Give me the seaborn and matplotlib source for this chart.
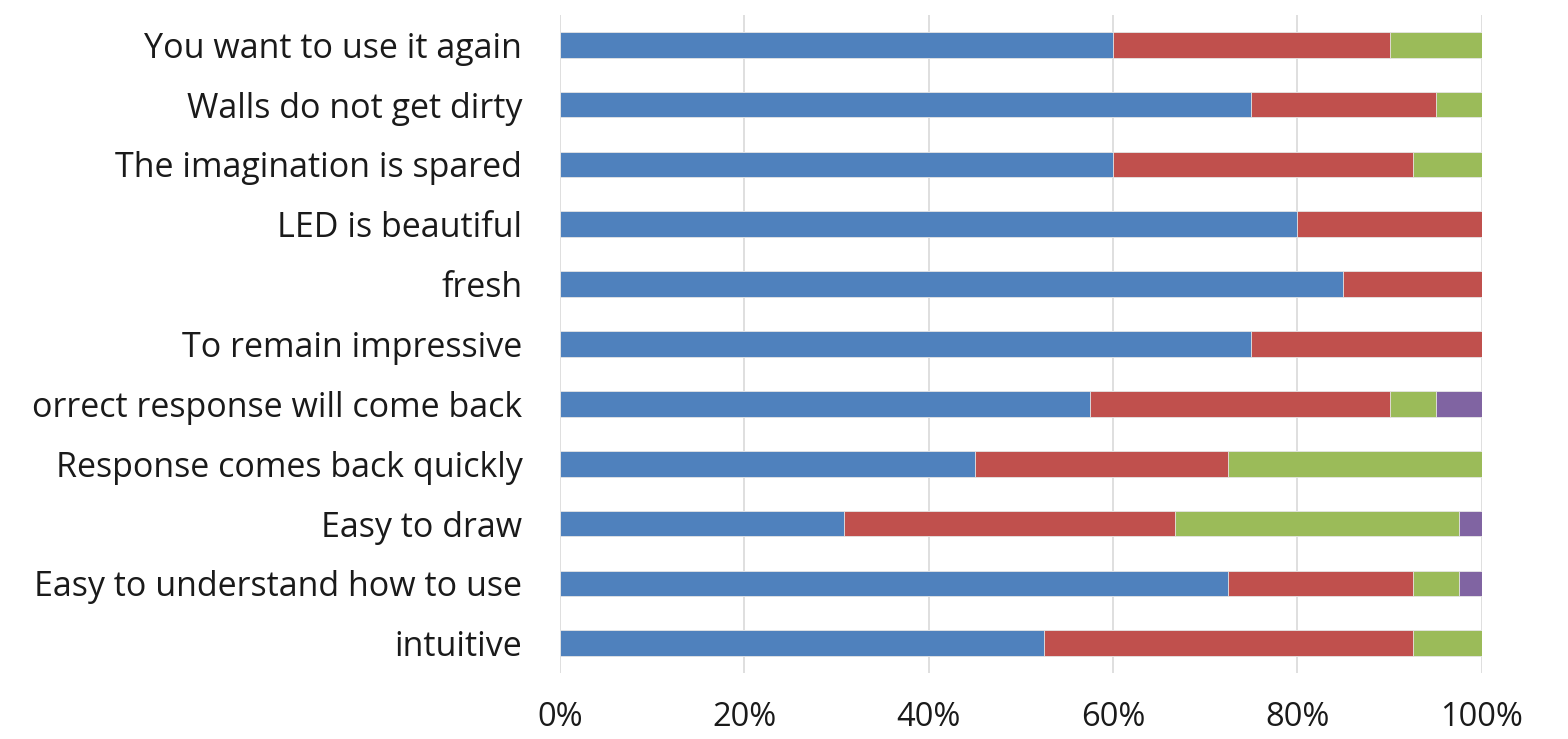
import numpy as np
import pandas as pd
import matplotlib
matplotlib.use("Agg")
import matplotlib.pyplot as plt
import seaborn as sns

# categories, top to bottom
labels = [
    "You want to use it again",
    "Walls do not get dirty",
    "The imagination is spared",
    "LED is beautiful",
    "fresh",
    "To remain impressive",
    "orrect response will come back",
    "Response comes back quickly",
    "Easy to draw",
    "Easy to understand how to use",
    "intuitive",
]

# share of answers per category (%), one list per response level
level1 = [60.0, 75.0, 60.0, 80.0, 85.0, 75.0, 57.5, 45.0, 30.8, 72.5, 52.5]
level2 = [30.0, 20.0, 32.5, 20.0, 15.0, 25.0, 32.5, 27.5, 35.9, 20.0, 40.0]
level3 = [10.0, 5.0, 7.5, 0.0, 0.0, 0.0, 5.0, 27.5, 30.8, 5.0, 7.5]
level4 = [0.0, 0.0, 0.0, 0.0, 0.0, 0.0, 5.0, 0.0, 2.5, 2.5, 0.0]

colors = ["#4F81BD", "#C0504D", "#9BBB59", "#8064A2"]
xticks = [0, 20, 40, 60, 80, 100]

sns.set_theme(style="white")
plt.rcParams["font.family"] = ["Open Sans", "DejaVu Sans"]

df = pd.DataFrame({"label": labels, "l1": level1, "l2": level2,
                   "l3": level3, "l4": level4})
cols = ["l1", "l2", "l3", "l4"]
cum = df[cols].cumsum(axis=1)

fig = plt.figure(figsize=(15.68, 7.39), dpi=100)
ax = fig.add_axes([0.357, 0.089, 0.588, 0.891])

for col, c in reversed(list(zip(cols, colors))):
    sns.barplot(x=cum[col], y=df["label"], color=c, orient="h", width=0.43,
                saturation=1, edgecolor="#e8e8e8", linewidth=0.6, ax=ax)

ax.set_xlim(0, 100)
ax.set_ylim(len(labels) - 0.5, -0.5)
ax.set_xticks(xticks)
ax.set_xticklabels([f"{v}%" for v in xticks], fontsize=23.5, color="#1a1a1a")
ax.tick_params(axis="y", labelsize=24.5, pad=27, length=0, labelcolor="#1a1a1a")
ax.tick_params(axis="x", pad=20, length=0)
ax.set_xlabel("")
ax.set_ylabel("")
ax.xaxis.grid(True, color="#d9d9d9", linewidth=1.2)
ax.set_axisbelow(True)
for s in ax.spines.values():
    s.set_visible(False)

fig.savefig("out.png", dpi=100)
